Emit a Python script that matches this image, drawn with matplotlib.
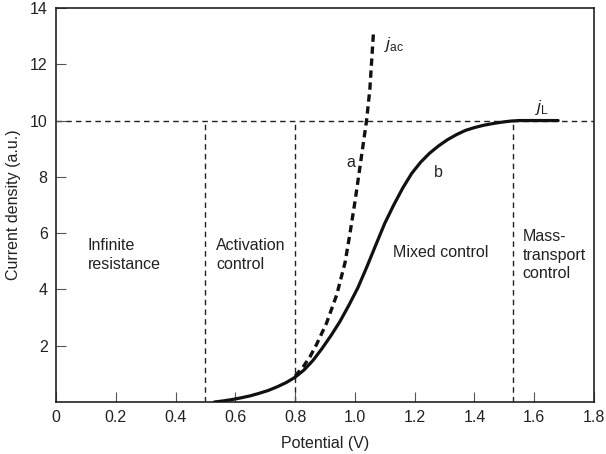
import matplotlib
matplotlib.use("Agg")
import matplotlib.pyplot as plt

plt.rcParams['font.family'] = ['Liberation Sans', 'DejaVu Sans']
plt.rcParams['mathtext.fontset'] = 'custom'
plt.rcParams['mathtext.rm'] = 'Liberation Sans'
plt.rcParams['mathtext.it'] = 'Liberation Sans:italic'

# Curve b (solid): measured current-potential curve
b_potential = [0.53, 0.56, 0.59, 0.62, 0.65, 0.68, 0.71, 0.74, 0.77, 0.80, 0.83, 0.86, 0.89,
               0.92, 0.95, 0.98, 1.01, 1.04, 1.07, 1.10, 1.13, 1.16, 1.19, 1.22, 1.25, 1.28,
               1.31, 1.34, 1.37, 1.40, 1.43, 1.46, 1.49, 1.52, 1.55, 1.60, 1.64, 1.68]
b_current = [0.0, 0.04, 0.09, 0.15, 0.22, 0.31, 0.41, 0.54, 0.69, 0.88, 1.14, 1.48, 1.90,
             2.36, 2.86, 3.44, 4.06, 4.80, 5.58, 6.35, 7.00, 7.60, 8.12, 8.52, 8.84, 9.10,
             9.32, 9.50, 9.65, 9.75, 9.83, 9.89, 9.94, 9.98, 10.0, 10.0, 10.0, 10.0]

# Curve a (dashed): activation-controlled current j_ac
a_potential = [0.80, 0.827, 0.85, 0.872, 0.905, 0.939, 0.967, 0.983, 1.00, 1.017,
               1.039, 1.05, 1.062]
a_current = [0.92, 1.25, 1.61, 2.05, 2.80, 3.80, 4.95, 5.95, 7.10, 8.35,
             10.0, 11.1, 13.1]

# Region boundaries and limiting current
region_bounds = [0.5, 0.8, 1.53]
limiting_current = 10.0

x_ticks = [0, 0.2, 0.4, 0.6, 0.8, 1.0, 1.2, 1.4, 1.6, 1.8]
x_tick_labels = ['0', '0.2', '0.4', '0.6', '0.8', '1.0', '1.2', '1.4', '1.6', '1.8']
y_ticks = [2, 4, 6, 8, 10, 12, 14]
y_tick_labels = ['2', '4', '6', '8', '10', '12', '14']

region_labels = ['Infinite\nresistance', 'Activation\ncontrol', 'Mixed control', 'Mass-\ntransport\ncontrol']
region_label_pos = [(0.105, 5.22), (0.535, 5.22), (1.128, 5.3), (1.562, 5.22)]

fig = plt.figure(figsize=(6.06, 4.54), dpi=100)
ax = fig.add_axes([0.0924, 0.1145, 0.8878, 0.868])

text_color = '#222222'
dash_ref = (0, (4, 3))

ax.axhline(limiting_current, color='#222222', lw=1.0, linestyle=dash_ref, zorder=1)
for xb in region_bounds:
    ax.plot([xb, xb], [0, limiting_current], color='#222222', lw=1.0, linestyle=dash_ref, zorder=1)

ax.plot(a_potential, a_current, color='#111111', lw=2.4, linestyle=(0, (2.2, 1.4)),
        solid_capstyle='butt', dash_capstyle='butt', zorder=3)
ax.plot(b_potential, b_current, color='#111111', lw=2.3, zorder=4, solid_capstyle='round',
        solid_joinstyle='round')

fs = 11.5
for lab, (xx, yy) in zip(region_labels, region_label_pos):
    ax.text(xx, yy, lab, fontsize=fs, color=text_color, ha='left', va='center', linespacing=1.3)

ax.text(0.972, 8.5, 'a', fontsize=fs, color=text_color, ha='left', va='center')
ax.text(1.265, 8.15, 'b', fontsize=fs, color=text_color, ha='left', va='center')
ax.text(1.098, 12.7, r'$\mathit{j}_{\mathrm{ac}}$', fontsize=fs + 1, color=text_color, ha='left', va='center')
ax.text(1.602, 10.45, r'$\mathit{j}_{\mathrm{L}}$', fontsize=fs + 1, color=text_color, ha='left', va='center')

ax.set_xlim(0, 1.8)
ax.set_ylim(0, 14)
ax.set_xticks(x_ticks)
ax.set_xticklabels(x_tick_labels)
ax.set_yticks(y_ticks)
ax.set_yticklabels(y_tick_labels)
ax.tick_params(direction='in', length=7.5, width=0.8, colors='#555555', labelcolor=text_color,
               labelsize=11.5, pad=6)
for sp in ax.spines.values():
    sp.set_linewidth(1.2)
    sp.set_color('#222222')

ax.set_xlabel('Potential (V)', fontsize=11.5, color=text_color, labelpad=8)
ax.set_ylabel('Current density (a.u.)', fontsize=11.5, color=text_color, labelpad=6)

fig.savefig('out.png', dpi=100)
